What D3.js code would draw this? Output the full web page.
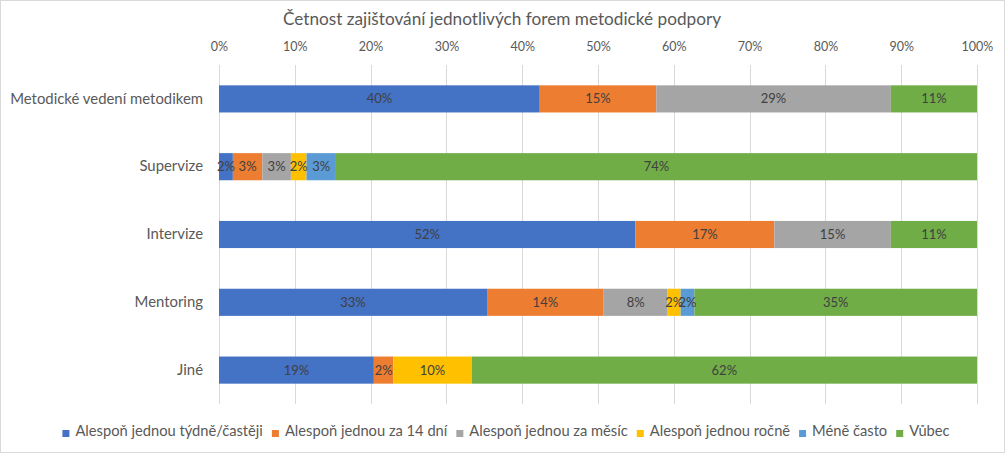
<!DOCTYPE html>
<html>
<head>
<meta charset="utf-8">
<script src="https://cdn.jsdelivr.net/npm/d3@7"></script>
<style>
  html, body { margin: 0; padding: 0; background: #fff; }
  svg { display: block; }
  text { font-family: Lato, "Open Sans", sans-serif; }
</style>
</head>
<body>
<svg id="chart" width="1005" height="453"></svg>
<script>
const title = "Četnost zajištování jednotlivých forem metodické podpory";
const categories = ["Metodické vedení metodikem", "Supervize", "Intervize", "Mentoring", "Jiné"];
const seriesNames = ["Alespoň jednou týdně/častěji", "Alespoň jednou za 14 dní", "Alespoň jednou za měsíc", "Alespoň jednou ročně", "Méně často", "Vůbec"];
const seriesColors = ["#4472C4", "#ED7D31", "#A5A5A5", "#FFC000", "#5B9BD5", "#70AD47"];
// percent of respondents per category, one array per series (in category order)
const weekly   = [40.2, 1.6, 52.2, 33.1, 19.0];
const biweekly = [14.6, 3.4, 17.4, 14.4, 2.4];
const monthly  = [29.4, 3.3, 14.6, 7.9, 0];
const yearly   = [0,    1.8, 0,    1.6, 9.6];
const lessOften= [0,    3.4, 0,    1.7, 0];
const never    = [10.8, 74.0, 10.8, 34.9, 62.0];
const tickValues = [0, 0.1, 0.2, 0.3, 0.4, 0.5, 0.6, 0.7, 0.8, 0.9, 1.0];

const seriesValues = [weekly, biweekly, monthly, yearly, lessOften, never];
const rows = categories.map((c, i) => {
  const r = { category: c };
  seriesNames.forEach((s, j) => r[s] = seriesValues[j][i]);
  return r;
});

const svg = d3.select("#chart");
const W = 1005, H = 453;
const margin = { left: 219, right: 28, top: 65, bottom: 49 };

// chart border
svg.append("rect").attr("x", 0.5).attr("y", 0.5).attr("width", W - 1).attr("height", H - 1)
  .attr("fill", "#fff").attr("stroke", "#D9D9D9");

const x = d3.scaleLinear().domain([0, 1]).range([margin.left, W - margin.right]);
const y = d3.scaleBand().domain(categories).range([margin.top, H - margin.bottom])
  .paddingInner(0.6).paddingOuter(0.3);

const stack = d3.stack().keys(seriesNames).offset(d3.stackOffsetExpand);
const stacked = stack(rows);

// gridlines
svg.append("g").selectAll("line").data(tickValues).join("line")
  .attr("x1", d => Math.round(x(d)) + 0.5).attr("x2", d => Math.round(x(d)) + 0.5)
  .attr("y1", margin.top).attr("y2", H - margin.bottom)
  .attr("stroke", "#D9D9D9").attr("stroke-width", 1);

// top axis labels
const xAxis = d3.axisTop(x).tickValues(tickValues).tickFormat(d3.format(".0%")).tickSize(0).tickPadding(0);
const gx = svg.append("g").attr("transform", `translate(0, 51)`).call(xAxis);
gx.select(".domain").remove();
gx.selectAll("text").attr("fill", "#595959").style("font-size", "12.5px").style("font-family", "Lato, sans-serif");

// category axis
const yAxis = d3.axisLeft(y).tickSize(0).tickPadding(16);
const gy = svg.append("g").attr("transform", `translate(${margin.left},0)`).call(yAxis);
gy.select(".domain").remove();
gy.selectAll("text").attr("fill", "#595959").style("font-size", "14.9px").style("font-family", "Lato, sans-serif");

// bars
const layers = svg.append("g").selectAll("g").data(stacked).join("g")
  .attr("fill", (d, i) => seriesColors[i]);
layers.selectAll("rect").data(d => d.map(p => ({ p, key: d.key }))).join("rect")
  .attr("x", d => x(d.p[0]))
  .attr("width", d => Math.max(0, x(d.p[1]) - x(d.p[0])))
  .attr("y", d => y(d.p.data.category))
  .attr("height", y.bandwidth());

// data labels
const labels = svg.append("g");
stacked.forEach((layer) => {
  layer.forEach(p => {
    const v = p.data[layer.key];
    if (!v) return;
    labels.append("text")
      .attr("x", (x(p[0]) + x(p[1])) / 2)
      .attr("y", y(p.data.category) + y.bandwidth() / 2)
      .attr("dy", "0.35em")
      .attr("text-anchor", "middle")
      .attr("fill", "#404040")
      .style("font-size", "13px")
      .text(d3.format(".0%")(Math.round(v) / 100));
  });
});

// title
svg.append("text").attr("x", 502).attr("y", 25).attr("text-anchor", "middle")
  .attr("fill", "#595959").style("font-size", "17.2px").text(title);

// legend
const legend = svg.append("g");
const items = legend.selectAll("g").data(seriesNames).join("g");
items.append("rect").attr("width", 7).attr("height", 7).attr("y", -6)
  .attr("fill", (d, i) => seriesColors[i]);
items.append("text").attr("x", 13).attr("y", 0).attr("fill", "#595959")
  .style("font-size", "14.7px").text(d => d);
const gap = 9;
const widths = items.nodes().map(n => d3.select(n).select("text").node().getComputedTextLength() + 13);
const total = d3.sum(widths) + gap * (widths.length - 1);
let cx = 506 - total / 2;
items.each(function(d, i) {
  d3.select(this).attr("transform", `translate(${cx}, 436)`);
  cx += widths[i] + gap;
});
</script>
</body>
</html>
